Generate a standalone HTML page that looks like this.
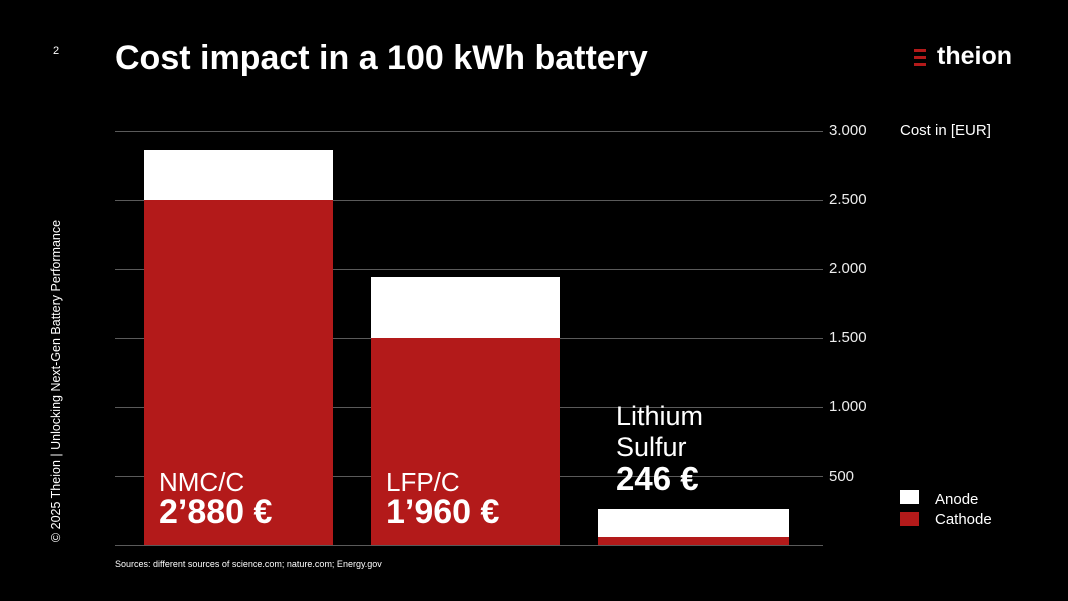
<!DOCTYPE html>
<html><head><meta charset="utf-8"><style>
body{margin:0;width:1068px;height:601px;background:#000;overflow:hidden;position:relative;font-family:"Liberation Sans",sans-serif;color:#fff}
.a{position:absolute}
.g{position:absolute;left:115px;width:708px;height:1px;background:#5a5a5a}
.t{position:absolute;left:829px;font-size:15px;color:#eee}
.r{position:absolute;background:#b31a1a}
.w{position:absolute;background:#fff}
</style></head><body>
<div class="a" style="left:53px;top:45px;font-size:11px">2</div>
<div class="a" style="left:115px;top:39px;font-size:34px;font-weight:bold">Cost impact in a 100 kWh battery</div>
<div class="a" style="left:914px;top:49px;width:12px;height:3px;background:#b31a1a"></div>
<div class="a" style="left:914px;top:56px;width:12px;height:3px;background:#b31a1a"></div>
<div class="a" style="left:914px;top:63px;width:12px;height:3px;background:#b31a1a"></div>
<div class="a" style="left:937px;top:42px;font-size:25px;font-weight:bold">theion</div>
<div class="a" style="left:-124px;top:374px;width:360px;height:14px;transform:rotate(-90deg);transform-origin:50% 50%;font-size:12.5px;line-height:14px;white-space:nowrap;text-align:center">© 2025 Theion | Unlocking Next-Gen Battery Performance</div>
<div class="g" style="top:131px"></div><div class="g" style="top:200px"></div><div class="g" style="top:269px"></div><div class="g" style="top:338px"></div><div class="g" style="top:407px"></div><div class="g" style="top:476px"></div><div class="g" style="top:545px"></div>
<div class="t" style="top:122px">3.000</div><div class="t" style="top:191px">2.500</div><div class="t" style="top:260px">2.000</div><div class="t" style="top:329px">1.500</div><div class="t" style="top:398px">1.000</div><div class="t" style="top:468px">500</div>
<div class="a" style="left:900px;top:122px;font-size:15px">Cost in [EUR]</div>
<div class="w" style="left:144px;top:150px;width:189px;height:50px"></div>
<div class="r" style="left:144px;top:200px;width:189px;height:345px"></div>
<div class="w" style="left:371px;top:277px;width:189px;height:61px"></div>
<div class="r" style="left:371px;top:338px;width:189px;height:207px"></div>
<div class="w" style="left:598px;top:509px;width:191px;height:28px"></div>
<div class="r" style="left:598px;top:537px;width:191px;height:8px"></div>
<div class="a" style="left:159px;top:467px;font-size:26px;line-height:30px">NMC/C<br><b style="font-size:34px">2’880 €</b></div>
<div class="a" style="left:386px;top:467px;font-size:26px;line-height:30px">LFP/C<br><b style="font-size:34px">1’960 €</b></div>
<div class="a" style="left:616px;top:401px;font-size:27px;line-height:31px">Lithium<br>Sulfur<br><b style="font-size:33px">246 €</b></div>
<div class="w" style="left:900px;top:490px;width:19px;height:14px"></div>
<div class="r" style="left:900px;top:512px;width:19px;height:14px"></div>
<div class="a" style="left:935px;top:491px;font-size:15px">Anode</div>
<div class="a" style="left:935px;top:511px;font-size:15px">Cathode</div>
<div class="a" style="left:115px;top:559px;font-size:9px">Sources: different sources of science.com; nature.com; Energy.gov</div>
</body></html>
